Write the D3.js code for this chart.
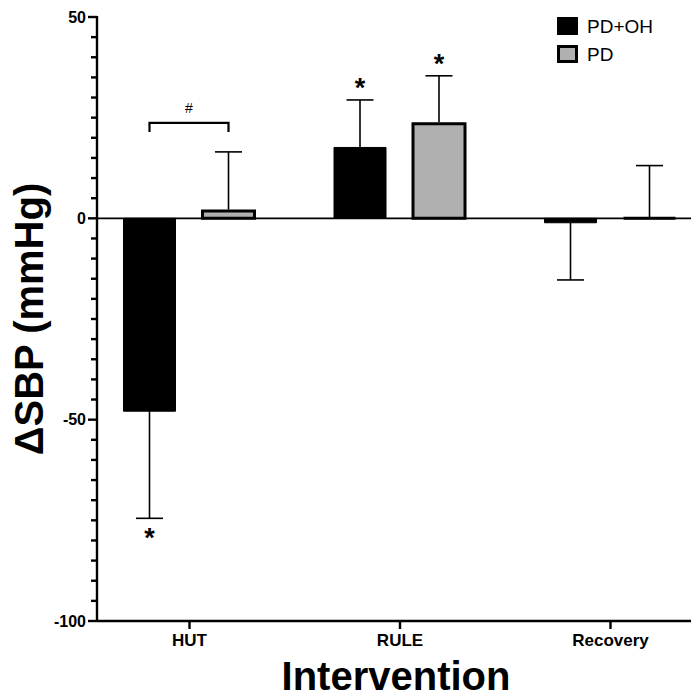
<!DOCTYPE html>
<html lang="en">
<head>
<meta charset="utf-8">
<title>ΔSBP by Intervention</title>
<script src="https://cdn.jsdelivr.net/npm/d3@7"></script>
<style>
  body { margin: 0; background: #fff; }
  svg { display: block; font-family: "Liberation Sans", Arial, sans-serif; }
</style>
</head>
<body>
<div id="container"></div>
<script>
//### DATA ###
const categories = [ 'HUT', 'RULE', 'Recovery' ];
const seriesNames = [ 'PD+OH', 'PD' ];

//>>> Mean change in SBP (mmHg), one value per category
const pdohMeans = [ -47.9, 17.6, -1.1 ];
const pdMeans = [ 1.8, 23.5, 0 ];

//>>> Error (SD), drawn in the direction of the bar
const pdohErrors = [ 26.6, 11.8, 14.2 ];
const pdErrors = [ 14.7, 11.9, 13.1 ];

//>>> Significance stars (* vs baseline)
const pdohStars = [ true, true, false ];
const pdStars = [ false, true, false ];

//>>> Between-group bracket
const bracketCategory = 'HUT';
const bracketValue = 23.7;
const bracketLabel = '#';

//>>> Axis ticks
const yMajorTicks = [ -100, -50, 0, 50 ];
const yMinorTicks = d3.range( -100, 51, 5 );

const xTitle = 'Intervention';
const yTitle = 'ΔSBP (mmHg)';


//### CREATE THE CHART ###
function createChart () {
  //_____ VARIABLES _____
  const width = 691;
  const height = 698;
  const black = '#000';
  const grey = '#b0b0b0';

  const series = [
    { name: seriesNames[ 0 ], means: pdohMeans, errors: pdohErrors, stars: pdohStars, fill: black, stroke: black, strokeWidth: 1 },
    { name: seriesNames[ 1 ], means: pdMeans, errors: pdErrors, stars: pdStars, fill: grey, stroke: black, strokeWidth: 3 }
  ];

  //>>> Flatten to one record per bar
  const bars = [];
  series.forEach( s => {
    categories.forEach( ( c, i ) => {
      bars.push( { series: s, category: c, value: s.means[ i ], error: s.errors[ i ], star: s.stars[ i ] } );
    } );
  } );


  //_____ SVG _____
  const svg = d3.select( '#container' )
    .append( 'svg' )
    .attr( 'width', width )
    .attr( 'height', height );


  //_____ SCALES _____
  const y = d3.scaleLinear()
    .domain( [ -100, 50 ] )
    .range( [ 621, 17 ] );

  const x = d3.scalePoint()
    .domain( categories )
    .range( [ 189, 610 ] );

  //>>> Offset of each series inside a category
  const xInner = d3.scalePoint()
    .domain( seriesNames )
    .range( [ -39.5, 39.5 ] );

  const barWidth = 52;
  const capHalf = 13.5;
  const axisX = 97;


  //_____ BARS _____
  //::::: paths instead of rects so that a zero-height bar still shows its outline
  svg.append( 'g' )
    .selectAll( 'path' )
    .data( bars )
    .enter()
    .append( 'path' )
    .attr( 'd', d => {
      const x0 = x( d.category ) + xInner( d.series.name ) - barWidth / 2;
      const y0 = y( Math.max( 0, d.value ) );
      const h = Math.abs( y( d.value ) - y( 0 ) );
      return `M${x0},${y0}h${barWidth}v${h}h${-barWidth}Z`;
    } )
    .attr( 'fill', d => d.series.fill )
    .attr( 'stroke', d => d.series.stroke )
    .attr( 'stroke-width', d => d.series.strokeWidth );


  //_____ ERROR BARS _____
  const errG = svg.append( 'g' )
    .attr( 'stroke', black )
    .attr( 'stroke-width', 1.6 );

  bars.forEach( d => {
    const cx = x( d.category ) + xInner( d.series.name );
    const dir = d.value < 0 ? -1 : 1;
    const start = d.value + ( d.series.strokeWidth > 1 && d.value > 0 ? 0.35 : 0 );
    const end = d.value + dir * d.error;
    errG.append( 'line' )
      .attr( 'x1', cx ).attr( 'x2', cx )
      .attr( 'y1', y( start ) ).attr( 'y2', y( end ) );
    errG.append( 'line' )
      .attr( 'x1', cx - capHalf ).attr( 'x2', cx + capHalf )
      .attr( 'y1', y( end ) ).attr( 'y2', y( end ) );

    //>>> Significance star
    if ( d.star ) {
      svg.append( 'text' )
        .attr( 'x', cx )
        .attr( 'y', y( end ) + ( dir > 0 ? -3 : 29 ) )
        .attr( 'text-anchor', 'middle' )
        .style( 'font-size', '27px' )
        .style( 'font-weight', 'bold' )
        .text( '*' );
    }
  } );


  //_____ BRACKET _____
  const bx1 = x( bracketCategory ) + xInner( seriesNames[ 0 ] );
  const bx2 = x( bracketCategory ) + xInner( seriesNames[ 1 ] );
  const by = y( bracketValue );
  svg.append( 'path' )
    .attr( 'd', `M${bx1},${by + 9}V${by}H${bx2}V${by + 9}` )
    .attr( 'fill', 'none' )
    .attr( 'stroke', black )
    .attr( 'stroke-width', 2.2 );
  svg.append( 'text' )
    .attr( 'x', ( bx1 + bx2 ) / 2 )
    .attr( 'y', by - 10 )
    .attr( 'text-anchor', 'middle' )
    .style( 'font-size', '14px' )
    .text( bracketLabel );


  //_____ ZERO LINE _____
  svg.append( 'line' )
    .attr( 'x1', axisX ).attr( 'x2', width )
    .attr( 'y1', y( 0 ) ).attr( 'y2', y( 0 ) )
    .attr( 'stroke', black )
    .attr( 'stroke-width', 1.6 );


  //_____ Y AXIS _____
  const yAxisG = svg.append( 'g' )
    .attr( 'class', 'y-axis' );

  //>>> Axis line
  yAxisG.append( 'line' )
    .attr( 'x1', axisX ).attr( 'x2', axisX )
    .attr( 'y1', y( 50 ) - 1 ).attr( 'y2', y( -100 ) + 1 )
    .attr( 'stroke', black )
    .attr( 'stroke-width', 2.4 );

  //>>> Tick marks: long for major, short for minor
  yAxisG.selectAll( 'line.tick' )
    .data( yMinorTicks )
    .enter()
    .append( 'line' )
    .attr( 'class', 'tick' )
    .attr( 'x1', d => axisX - ( yMajorTicks.includes( d ) ? 9 : 6 ) )
    .attr( 'x2', axisX )
    .attr( 'y1', d => y( d ) )
    .attr( 'y2', d => y( d ) )
    .attr( 'stroke', black )
    .attr( 'stroke-width', 2.4 );

  //>>> Tick labels (plain hyphen for negatives)
  yAxisG.selectAll( 'text' )
    .data( yMajorTicks )
    .enter()
    .append( 'text' )
    .attr( 'x', axisX - 11 )
    .attr( 'y', d => y( d ) )
    .attr( 'dy', '0.36em' )
    .attr( 'text-anchor', 'end' )
    .style( 'font-size', '16px' )
    .style( 'font-weight', 'bold' )
    .attr( 'fill', black )
    .text( d => String( d ) );


  //_____ X AXIS _____
  const xAxis = d3.axisBottom( x )
    .tickSize( 8 )
    .tickSizeOuter( 0 )
    .tickPadding( 5 );
  const xAxisG = svg.append( 'g' )
    .attr( 'transform', `translate(0,${y( -100 )})` )
    .call( xAxis );
  xAxisG.select( '.domain' )
    .attr( 'd', `M${axisX},0H${width}` );
  xAxisG.selectAll( 'line, path' )
    .attr( 'stroke', black )
    .attr( 'stroke-width', 2.4 );
  xAxisG.selectAll( 'text' )
    .style( 'font-family', '"Liberation Sans", Arial, sans-serif' )
    .style( 'font-size', '17px' )
    .style( 'font-weight', 'bold' )
    .attr( 'fill', black );


  //_____ AXIS TITLES _____
  svg.append( 'text' )
    .attr( 'x', 396 )
    .attr( 'y', 690 )
    .attr( 'text-anchor', 'middle' )
    .style( 'font-size', '40px' )
    .style( 'font-weight', 'bold' )
    .text( xTitle );

  svg.append( 'text' )
    .attr( 'transform', `translate(43,${( y( 50 ) + y( -100 ) ) / 2}) rotate(-90)` )
    .attr( 'text-anchor', 'middle' )
    .style( 'font-size', '40px' )
    .style( 'font-weight', 'bold' )
    .text( yTitle );


  //_____ LEGEND _____
  const legend = svg.append( 'g' )
    .attr( 'id', 'legend' )
    .attr( 'transform', 'translate(557,17)' );

  const items = legend.selectAll( 'g' )
    .data( series )
    .enter()
    .append( 'g' )
    .attr( 'transform', ( d, i ) => `translate(0,${i * 28})` );

  items.append( 'rect' )
    .attr( 'x', d => d.strokeWidth / 2 )
    .attr( 'y', d => d.strokeWidth / 2 )
    .attr( 'width', d => 21 - d.strokeWidth )
    .attr( 'height', d => 18 - d.strokeWidth )
    .attr( 'fill', d => d.fill )
    .attr( 'stroke', d => d.stroke )
    .attr( 'stroke-width', d => d.strokeWidth );

  items.append( 'text' )
    .attr( 'x', 30 )
    .attr( 'y', 15.5 )
    .style( 'font-size', '19px' )
    .text( d => d.name );
}

createChart();
</script>
</body>
</html>
